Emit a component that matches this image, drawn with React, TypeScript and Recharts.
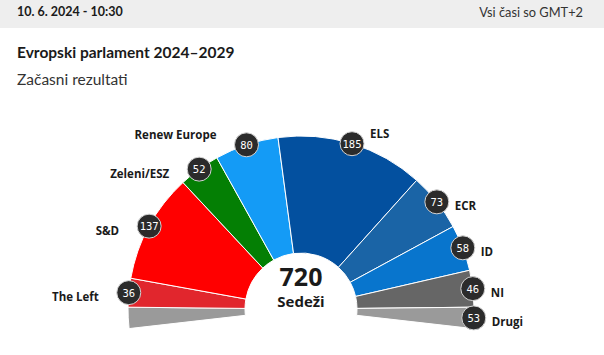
import { PieChart, Pie, Cell } from "recharts";

const parties = [
  "The Left",
  "S&D",
  "Zeleni/ESZ",
  "Renew Europe",
  "ELS",
  "ECR",
  "ID",
  "NI",
  "Drugi",
];
const seats = [36, 137, 52, 80, 185, 73, 58, 46, 53];
const colors = [
  "#e1262d",
  "#ff0000",
  "#047f04",
  "#149bf6",
  "#03509f",
  "#1a64a6",
  "#0875cd",
  "#666666",
  "#9a9a9a",
];
const totalSeats = 720;

// "Drugi" is drawn split in two: half tucked under the left edge, half at the right end
const drugiIdx = parties.length - 1;
const pieData = [
  { name: parties[drugiIdx], value: seats[drugiIdx] / 2, color: colors[drugiIdx], hidden: true },
  ...parties.map((name, i) => ({
    name,
    value: i === drugiIdx ? seats[i] / 2 : seats[i],
    seats: seats[i],
    color: colors[i],
    hidden: false,
  })),
];

const CX = 301;
const CY = 309;
const OUTER = 173;
const INNER = 56;
const RAD = Math.PI / 180;

const labelFont = "'Open Sans', 'DejaVu Sans', sans-serif";

function renderLabel(props: any) {
  const { midAngle, index } = props;
  const item = pieData[index];
  if (!item || item.hidden) return null;
  const x = CX + OUTER * Math.cos(midAngle * RAD);
  const y = CY - OUTER * Math.sin(midAngle * RAD);
  const right = Math.cos(midAngle * RAD) > 0;
  const nearTop = Math.sin(midAngle * RAD) > 0.93;
  const ly = nearTop ? y - 10 : y + 4;
  const lx = right ? x + 18 : x - 30;
  return (
    <g key={`lbl-${index}`}>
      <circle cx={x} cy={y} r={12} fill="#2b2b2b" stroke="#d4d4d4" strokeWidth={1} />
      <text
        x={x}
        y={y}
        textAnchor="middle"
        dominantBaseline="central"
        fill="#ffffff"
        fontSize={10.5}
        fontFamily="'DejaVu Sans Mono', monospace"
      >
        {item.seats}
      </text>
      <text
        x={lx}
        y={ly}
        textAnchor={right ? "start" : "end"}
        dominantBaseline="central"
        fill="#1a1a1a"
        fontSize={11.5}
        fontWeight={700}
        fontFamily={labelFont}
      >
        {item.name}
      </text>
    </g>
  );
}

export default function App() {
  return (
    <div
      style={{
        position: "fixed",
        left: 0,
        top: 0,
        width: 604,
        height: 355,
        background: "#ffffff",
        fontFamily: "Lato, 'Open Sans', sans-serif",
        color: "#1a1a1a",
        overflow: "hidden",
      }}
    >
      <div
        style={{
          position: "absolute",
          left: 0,
          top: 0,
          width: 604,
          height: 28,
          background: "#eeeeee",
        }}
      />
      <div style={{ position: "absolute", left: 17, top: 4, fontSize: 12.5, fontWeight: 700 }}>
        10. 6. 2024 - 10:30
      </div>
      <div style={{ position: "absolute", right: 21, top: 4, fontSize: 12.8, color: "#333" }}>
        Vsi časi so GMT+2
      </div>
      <div style={{ position: "absolute", left: 17, top: 43, fontSize: 15.5, fontWeight: 700 }}>
        Evropski parlament 2024–2029
      </div>
      <div style={{ position: "absolute", left: 17, top: 70, fontSize: 15.5, color: "#333" }}>
        Začasni rezultati
      </div>

      <div style={{ position: "absolute", left: 0, top: 0 }}>
        <PieChart width={604} height={355} margin={{ top: 0, right: 0, bottom: 0, left: 0 }}>
          <Pie
            data={pieData}
            dataKey="value"
            nameKey="name"
            cx={CX}
            cy={CY}
            startAngle={186.5}
            endAngle={-6.5}
            innerRadius={INNER}
            outerRadius={OUTER}
            stroke="#ffffff"
            strokeWidth={1}
            label={renderLabel}
            labelLine={false}
            isAnimationActive={false}
          >
            {pieData.map((d, i) => (
              <Cell key={i} fill={d.color} />
            ))}
          </Pie>
        </PieChart>
      </div>

      <div
        style={{
          position: "absolute",
          left: CX - 60,
          width: 120,
          top: 261,
          textAlign: "center",
          fontSize: 25,
          fontWeight: 700,
          lineHeight: "30px",
          fontFamily: labelFont,
        }}
      >
        {totalSeats}
      </div>
      <div
        style={{
          position: "absolute",
          left: CX - 60,
          width: 120,
          top: 291,
          textAlign: "center",
          fontSize: 15,
          fontWeight: 700,
          lineHeight: "20px",
          fontFamily: labelFont,
        }}
      >
        Sedeži
      </div>
    </div>
  );
}
